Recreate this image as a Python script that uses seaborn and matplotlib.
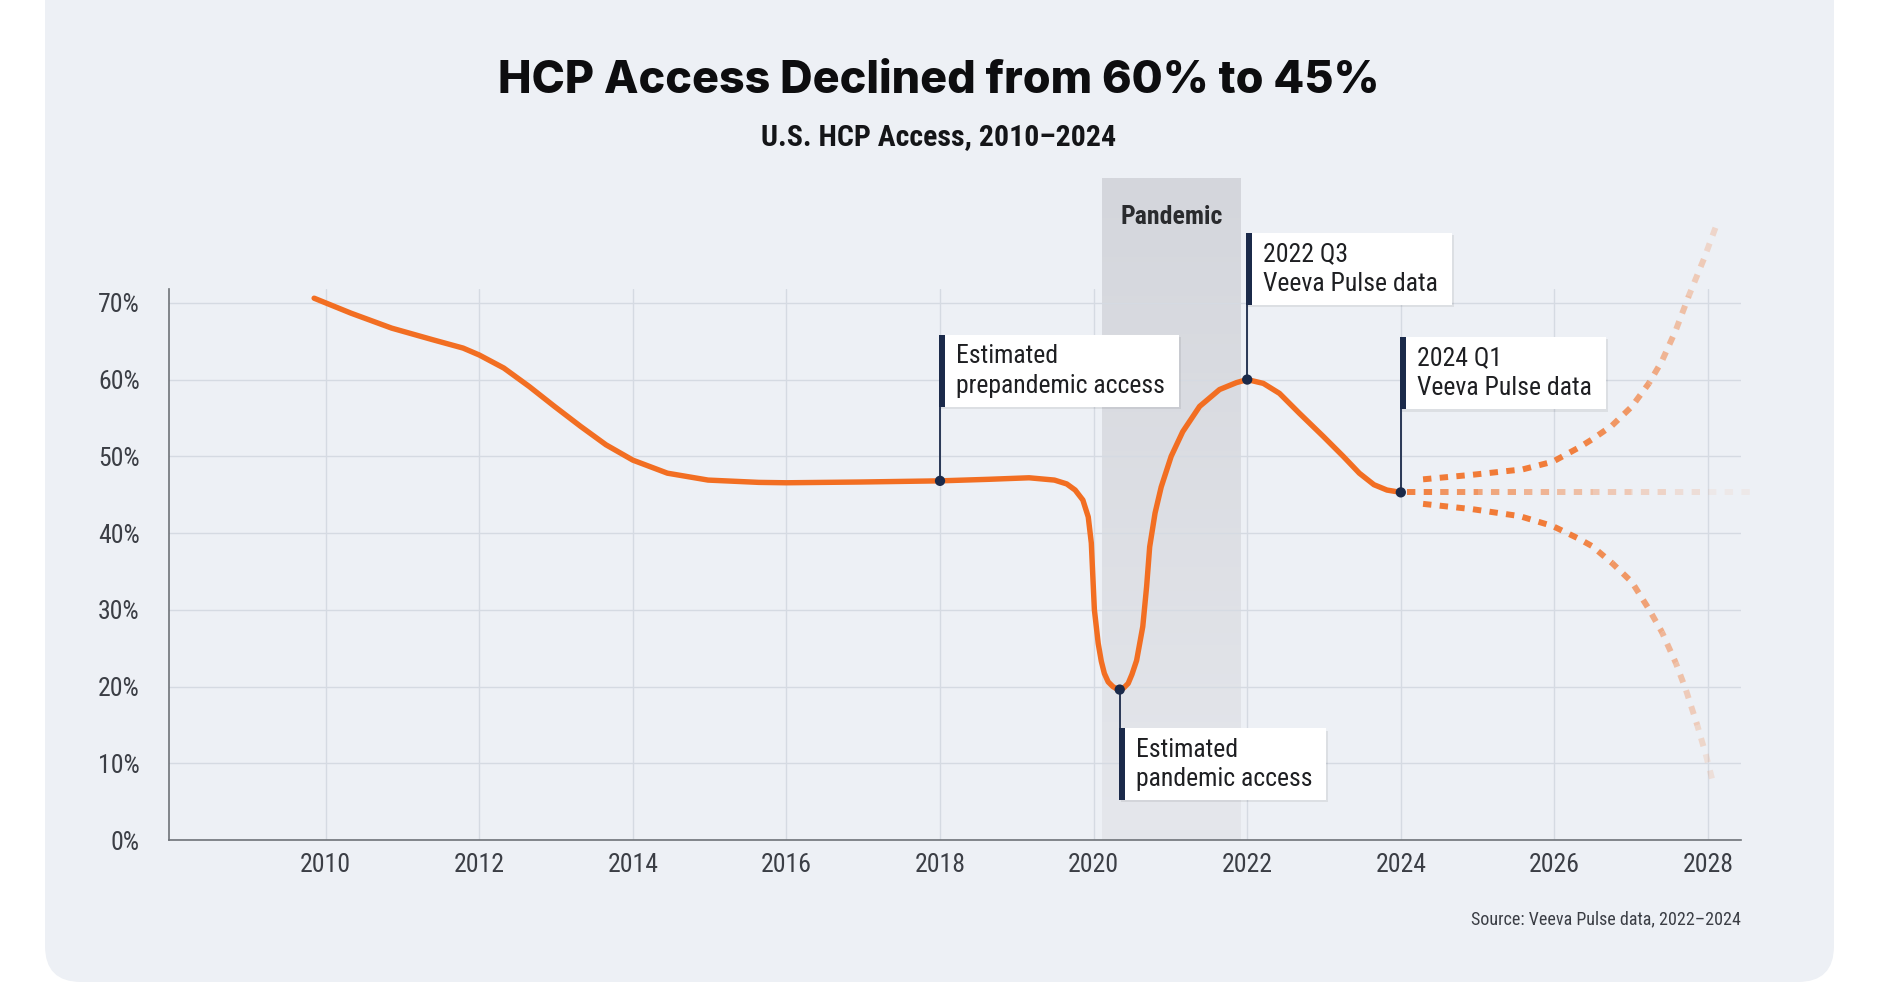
import numpy as np
import matplotlib
matplotlib.use("Agg")
import matplotlib.pyplot as plt
import matplotlib.patheffects as pe
from matplotlib.patches import FancyBboxPatch, Rectangle
from matplotlib.transforms import IdentityTransform
import seaborn as sns

# HCP access (%)
years = [2009.85, 2010.33, 2010.86, 2011.39, 2011.79, 2012.0, 2012.32, 2012.65, 2012.98,
         2013.32, 2013.65, 2014.0, 2014.45, 2014.98, 2015.64, 2016.0, 2016.97, 2018.0,
         2018.63, 2019.16, 2019.49, 2019.65, 2019.76, 2019.86, 2019.93, 2019.97, 2019.99,
         2020.01, 2020.06, 2020.10, 2020.14, 2020.19, 2020.25, 2020.30, 2020.34, 2020.39,
         2020.45, 2020.50, 2020.56, 2020.64, 2020.69,
         2020.73, 2020.80, 2020.88, 2021.01, 2021.16, 2021.38, 2021.64, 2021.86, 2022.0,
         2022.21, 2022.42, 2022.68, 2022.99, 2023.25, 2023.46, 2023.65, 2023.82, 2024.0]
access = [70.6, 68.65, 66.7, 65.2, 64.1, 63.2, 61.5, 59.1, 56.5,
          53.9, 51.5, 49.5, 47.8, 46.9, 46.6, 46.55, 46.65, 46.8,
          47.0, 47.2, 46.9, 46.4, 45.6, 44.3, 42.1, 38.7, 34.3,
          30.0, 25.6, 23.3, 21.7, 20.6, 20.0, 19.7, 19.6, 19.8,
          20.4, 21.6, 23.4, 27.8, 33.0,
          38.2, 42.6, 46.0, 50.0, 53.2, 56.5, 58.7, 59.6, 60.0,
          59.5, 58.2, 55.6, 52.6, 50.0, 47.8, 46.3, 45.6, 45.3]

# projection scenarios after 2024
up_years = [2024.29, 2024.94, 2025.59, 2025.98, 2026.33, 2026.49, 2026.75, 2027.01,
            2027.23, 2027.40, 2027.58, 2027.75, 2027.95, 2028.1]
up_vals = [47.0, 47.6, 48.3, 49.3, 51.2, 52.2, 54.0, 56.5,
           59.5, 62.4, 66.4, 70.9, 75.8, 79.85]
mid_years = [2024.08, 2024.5, 2025.0, 2025.5, 2026.0, 2026.5, 2027.0, 2027.5, 2028.0, 2028.55]
mid_vals = [45.3, 45.3, 45.3, 45.3, 45.3, 45.3, 45.3, 45.3, 45.3, 45.3]
low_years = [2024.29, 2024.94, 2025.55, 2025.98, 2026.31, 2026.49, 2026.75, 2027.01,
             2027.23, 2027.40, 2027.58, 2027.71, 2027.86, 2027.97, 2028.06]
low_vals = [43.8, 43.1, 42.2, 40.9, 39.3, 38.3, 36.1, 33.6,
            30.1, 27.1, 23.1, 19.65, 14.98, 11.2, 7.7]

note_years = [2018.0, 2020.34, 2022.0, 2024.0]
note_vals = [46.8, 19.6, 60.0, 45.3]
note_text = ["Estimated\nprepandemic access", "Estimated\npandemic access",
             "2022 Q3\nVeeva Pulse data", "2024 Q1\nVeeva Pulse data"]

x_ticks = list(range(2010, 2029, 2))
y_ticks = list(range(0, 71, 10))

# layout / styling
note_box = [(56.47, 65.83), (5.18, 14.53), (69.74, 79.09), (56.1, 65.6)]
up_alpha = [0.9, 0.9, 0.9, 0.88, 0.85, 0.8, 0.72, 0.65, 0.58, 0.5, 0.42, 0.33, 0.25, 0.16]
mid_alpha = [0.9, 0.78, 0.62, 0.5, 0.42, 0.34, 0.26, 0.18, 0.1, 0.02]
low_alpha = [0.9, 0.9, 0.9, 0.88, 0.85, 0.8, 0.72, 0.65, 0.56, 0.48, 0.4, 0.32, 0.24, 0.16, 0.1]

ORANGE = "#F26E22"
NAVY = "#1B2A4A"
TICK = "#3b3e45"
COND = ["Roboto Condensed", "Liberation Sans Narrow", "Roboto", "DejaVu Sans"]

sns.set_theme(style="white")
plt.rcParams["font.family"] = COND

W, H = 1879, 984
fig = plt.figure(figsize=(W / 100, H / 100), dpi=100)
fig.patch.set_facecolor("white")

card = FancyBboxPatch((45, 2), 1834 - 45, 1040, boxstyle="round,pad=0,rounding_size=36",
                      fc="#EDF0F5", ec="none", transform=IdentityTransform(), zorder=-5)
fig.patches.append(card)

ax = fig.add_axes([169 / W, 1 - 840 / H, (1741 - 169) / W, (840 - 289) / H])
ax.set_facecolor("none")
ax.set_zorder(2)

# pandemic band
c_top = np.array([212, 214, 220]) / 255
c_bot = np.array([229, 231, 236]) / 255
t = np.linspace(0, 1, 256)[:, None]
grad = (c_top[None, :] * (1 - t) + c_bot[None, :] * t)[:, None, :]
ax.imshow(grad, extent=[2020.11, 2021.92, 0, 86.2], aspect="auto", origin="upper",
          zorder=0.2, clip_on=False, interpolation="bilinear")
ax.text(2021.015, 80.25, "Pandemic", ha="center", va="baseline", fontsize=18.5,
        weight="semibold", color="#2a2b2e")

ax.set_xlim(2007.96, 2028.43)
ax.set_ylim(0, 71.8)
ax.set_xticks(x_ticks)
ax.set_yticks(y_ticks)
ax.set_yticklabels([f"{v}%" for v in y_ticks])
ax.grid(True, color="#D5DAE2", lw=1.0)
ax.set_axisbelow(True)
for s in ["top", "right"]:
    ax.spines[s].set_visible(False)
for s in ["left", "bottom"]:
    ax.spines[s].set_color("#6E7278")
    ax.spines[s].set_linewidth(1.2)
ax.tick_params(axis="both", length=0, labelsize=18.5, labelcolor=TICK)
ax.tick_params(axis="y", pad=21)
ax.tick_params(axis="x", pad=9.5)

sns.lineplot(x=years, y=access, ax=ax, color=ORANGE, lw=3.9, zorder=4,
             solid_capstyle="round", solid_joinstyle="round")


def faded(xs, ys, alphas, lw=4.3, on=1.4, off=1.4):
    pts = ax.transData.transform(np.column_stack([xs, ys]))
    seg = np.hypot(*np.diff(pts, axis=0).T) * 72 / fig.dpi
    cum = np.concatenate([[0], np.cumsum(seg)])
    for i in range(len(xs) - 1):
        a = (alphas[i] + alphas[i + 1]) / 2
        ax.plot(xs[i:i + 2], ys[i:i + 2], color=ORANGE, alpha=a, lw=lw,
                linestyle=(cum[i] / lw, (on, off)), dash_capstyle="butt",
                clip_on=False, zorder=3)


faded(up_years, up_vals, up_alpha)
faded(mid_years, mid_vals, mid_alpha)
faded(low_years, low_vals, low_alpha)

sns.scatterplot(x=note_years, y=note_vals, ax=ax, color=NAVY, s=55, edgecolor="none",
                zorder=8, legend=False)

renderer = fig.canvas.get_renderer()
ppy = ax.transData.transform((1, 0))[0] - ax.transData.transform((0, 0))[0]
for x0, y0, txt, (yb, yt) in zip(note_years, note_vals, note_text, note_box):
    end = yb if yb > y0 else yt
    ax.plot([x0, x0], [y0, end], color=NAVY, lw=1.3, zorder=7, solid_capstyle="butt")
    tx = ax.text(x0 + 16 / ppy, (yb + yt) / 2, txt, ha="left", va="center",
                 fontsize=18.5, color="#1e1f22", linespacing=1.3, zorder=9, clip_on=False)
    bb = tx.get_window_extent(renderer)
    right = ax.transData.inverted().transform((bb.x1 + 14, 0))[0]
    box = Rectangle((x0 - 1 / ppy, yb), right - x0 + 1 / ppy, yt - yb, fc="white", ec="none",
                    zorder=6, clip_on=False,
                    path_effects=[pe.SimplePatchShadow(offset=(1.5, -1.5), shadow_rgbFace="black",
                                                       alpha=0.07), pe.Normal()])
    ax.add_patch(box)
    ax.add_patch(Rectangle((x0 - 1 / ppy, yb), 6 / ppy, yt - yb, fc=NAVY, ec="none",
                           zorder=7, clip_on=False))

fig.text(938.7 / W, 1 - 93.3 / H, "HCP Access Declined from 60% to 45%", ha="center",
         va="baseline", fontsize=32.3, weight=800, color="#0d0d0f",
         family=["Inter", "DejaVu Sans"])
fig.text(938.7 / W, 1 - 145 / H, "U.S. HCP Access, 2010\u20132024", ha="center",
         va="baseline", fontsize=21.5, weight="semibold", color="#141518")
fig.text(1741 / W, 1 - 924 / H, "Source: Veeva Pulse data, 2022\u20132024", ha="right",
         va="baseline", fontsize=13, color=TICK)

fig.savefig("out.png", dpi=100, facecolor="white")
